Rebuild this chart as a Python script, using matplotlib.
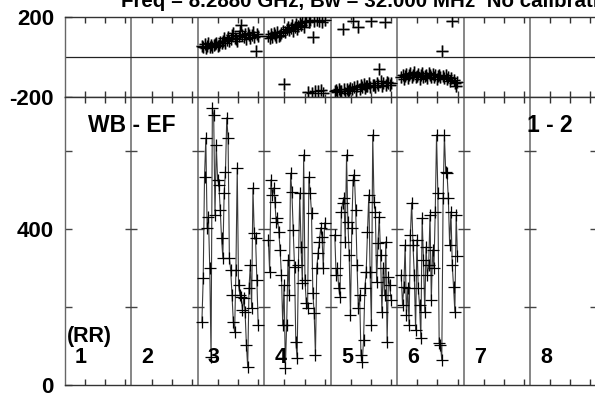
import numpy as np
import matplotlib
matplotlib.use("Agg")
import matplotlib.pyplot as plt

plt.rcParams['font.family'] = ['Liberation Sans', 'DejaVu Sans']
plt.rcParams['font.weight'] = 'bold'

title = "Freq = 8.2880 GHz, Bw = 32.000 MHz  No calibration applied"
panel_labels = ["1", "2", "3", "4", "5", "6", "7", "8"]
baseline_label = "WB - EF"
stokes_label = "(RR)"
source_label = "1 - 2"

# amplitude per IF panel (panels 3..6 carry data)
amp_if3 = [161, 274, 533, 633, 403, 431, 300, 72, 710, 692, 436, 615, 526, 513, 449,
           377, 326, 492, 546, 685, 633, 326, 295, 231, 161, 136, 295, 556, 256, 231,
           226, 192, 223, 187, 103, 46, 249, 308, 197, 505, 390, 377, 269, 154]
amp_if4 = [372, 290, 526, 487, 505, 469, 418, 428, 392, 346, 282, 154, 256, 44, 154,
           320, 231, 543, 495, 397, 303, 110, 69, 308, 492, 354, 262, 590, 269, 210,
           197, 533, 492, 441, 236, 185, 77, 300, 338, 367, 403, 380, 300, 415]
amp_if5 = [385, 282, 300, 249, 226, 444, 467, 479, 367, 590, 418, 333, 179, 403, 526,
           538, 449, 308, 197, 231, 77, 59, 115, 249, 290, 392, 487, 290, 154, 641,
           469, 444, 264, 364, 431, 333, 187, 300, 231, 367, 110, 277, 256, 218]
amp_if6 = [282, 205, 251, 359, 179, 249, 154, 385, 467, 359, 282, 141, 372, 249, 205,
           121, 428, 320, 187, 354, 282, 308, 436, 218, 346, 300, 444, 641, 492, 108,
           103, 64, 479, 641, 546, 543, 479, 359, 444, 308, 251, 187, 436, 330]

ph_if3 = [57, 50, 65, 45, 55, 70, 52, 62, 48, 58, 66, 72, 55, 60, 75, 68, 80, 95, 70, 85,
          100, 78, 90, 110, 120, 95, 88, 82, 105, 130, 160, 110, 100, 115, 92, 120, 108, 95,
          110, 125, 100, 32, 115, 105]
ph_if4 = [105, 95, 115, 100, 120, 110, 98, 125, 105, 112, 118, 130, -135, 125, 140, 150,
          135, 145, 160, 128, 150, 165, 140, 155, 170, 160, 175, 150, 178, 182, -175, 176,
          184, -180, 100, 180, -170, 185, -172, 182, -165, 176, -178, 183]
ph_if5 = [-170, -165, -175, -160, -172, -168, 140, -158, -178, -162, -170, -165, -155, -160,
          180, -150, -168, -145, 150, -158, -140, -150, -135, -155, -145, -145, -130, -148,
          182, -140, -138, -150, -128, -142, -60, -120, -145, -130, 175, -138, -125, -132,
          -140, -128]
ph_if6 = [-100, -90, -110, -95, -85, -105, -92, -80, -98, -88, -75, -102, -95, -85, -110,
          -90, -82, -100, -95, -88, -105, -78, -92, -98, -85, -100, -90, -108, -95, -88,
          -102, 32, -95, -105, -90, -110, -98, -120, -105, 182, -115, -130, -145, -125]

data_panels = {2: (amp_if3, ph_if3), 3: (amp_if4, ph_if4),
               4: (amp_if5, ph_if5), 5: (amp_if6, ph_if6)}

NP = 8
W = 33.0
chan_ticks = [10, 20, 30]
amp_ticks = [0, 200, 400, 600]
amp_ticklabels = ["0", "", "400", ""]
amp_max = 738
ph_ticks = [-200, 200]
ph_ticklabels = ["-200", "200"]

fig = plt.figure(figsize=(5.95, 3.94), dpi=100)
L = 65 / 595
Wd = 531.5 / 595
ax_ph = fig.add_axes([L, (394 - 97) / 394, Wd, 80 / 394])
ax_amp = fig.add_axes([L, 9 / 394, Wd, 288 / 394])

sepcol = '#666666'
xt = [k * W + c for k in range(NP) for c in chan_ticks]
for ax in (ax_ph, ax_amp):
    ax.set_xlim(0, NP * W)
    for s in ax.spines.values():
        s.set_linewidth(1.0)
        s.set_color('#333333')
    ax.spines['left'].set_color(sepcol)
    ax.set_xticks(xt)
    ax.set_xticklabels([])
    ax.tick_params(axis='x', direction='in', top=True, bottom=True, length=4,
                   width=1.0, color='#333333')
    ax.tick_params(axis='y', direction='in', left=True, right=False, length=5,
                   width=1.0, pad=8, labelsize=16, color='#444444')
    for k in range(1, NP + 1):
        ax.axvline(k * W, color=sepcol, lw=1.1, zorder=1)

ax_ph.set_ylim(-200, 200)
ax_ph.set_yticks(ph_ticks)
ax_ph.set_yticklabels(ph_ticklabels, fontweight='bold')
ax_ph.axhline(0, color='#222222', lw=0.9, zorder=1)

ax_amp.set_ylim(0, amp_max)
ax_amp.set_yticks(amp_ticks)
ax_amp.set_yticklabels(amp_ticklabels, fontweight='bold')
for k in range(1, NP + 1):
    ax_amp.hlines(amp_ticks[1:], k * W - 3, k * W + 3, color='#444444', lw=1.0, zorder=1)

for k, (amp, ph) in data_panels.items():
    n = len(amp)
    x = k * W + 2 + 0.65 * np.arange(n)
    ax_amp.plot(x, amp, color='#3a3a3a', lw=0.8, zorder=2)
    ax_amp.plot(x, amp, ls='none', marker='+', ms=9, mew=0.9, color='black', zorder=3)
    ax_ph.plot(x, ph, ls='none', marker='+', ms=9, mew=1.8, color='#8a8a8a', zorder=2)
    ax_ph.plot(x, ph, ls='none', marker='+', ms=9, mew=0.8, color='black', zorder=3)

for k, lab in enumerate(panel_labels):
    ax_amp.text(k * W + 5, 0.076, lab, transform=ax_amp.get_xaxis_transform(),
                fontsize=15.5, fontweight='bold', va='baseline', ha='left', zorder=4)
ax_amp.text(1.0, 0.149, stokes_label, transform=ax_amp.get_xaxis_transform(),
            fontsize=15.5, fontweight='bold', va='baseline', ha='left')
ax_amp.text(11.4, 0.878, baseline_label, transform=ax_amp.get_xaxis_transform(),
            fontsize=16.5, fontweight='bold', va='baseline', ha='left')
ax_amp.text(229.5, 0.878, source_label, transform=ax_amp.get_xaxis_transform(),
            fontsize=16.5, fontweight='bold', va='baseline', ha='left')

fig.text(121 / 595, 1 - 7 / 394, title, fontsize=14.8, fontweight='bold',
         va='baseline', ha='left')

fig.savefig("out.png", dpi=100)
